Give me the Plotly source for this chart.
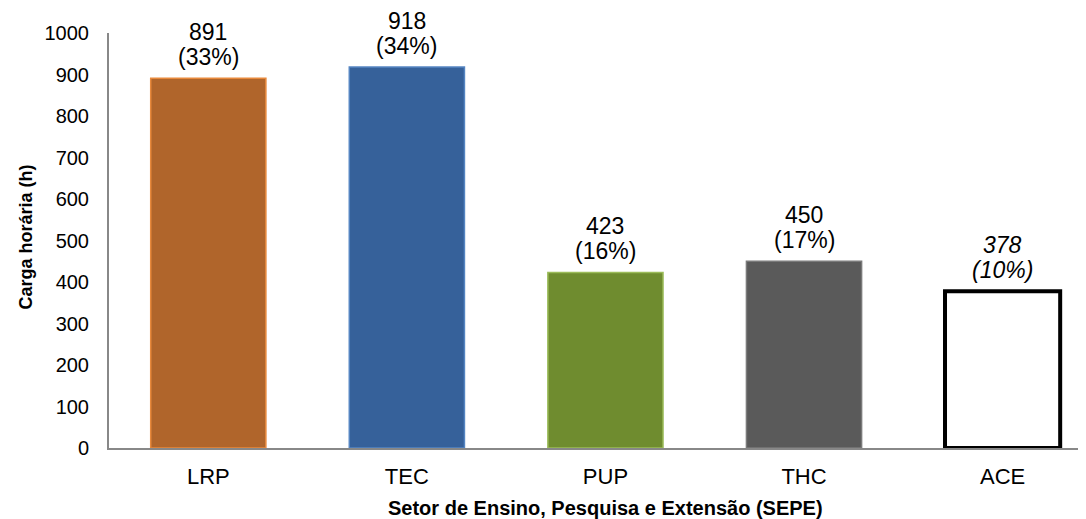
import plotly.graph_objects as go

categories = ["LRP", "TEC", "PUP", "THC", "ACE"]
values = [891, 918, 423, 450, 378]
percents = ["33%", "34%", "16%", "17%", "10%"]
italic_label = [False, False, False, False, True]
fill_colors = ["#B0652B", "#36619A", "#6F8C2F", "#5A5A5A", "#FFFFFF"]
edge_colors = ["#E8893C", "#5585C2", "#9CBC5A", "#7A7A7A", "#000000"]
edge_widths = [1.5, 1.5, 1.5, 1.5, 4]
x_title = "Setor de Ensino, Pesquisa e Extensão (SEPE)"
y_title = "Carga horária (h)"

FONT = "Liberation Sans, Arial, sans-serif"

fig = go.Figure(
    go.Bar(
        x=categories,
        y=values,
        width=0.58,
        marker=dict(color=fill_colors, line=dict(color=edge_colors, width=edge_widths)),
        hoverinfo="x+y",
    )
)

annotations = []
for cat, v, p, it in zip(categories, values, percents, italic_label):
    t_val = f"<i>{v}</i>" if it else f"{v}"
    t_pct = f"<i>({p})</i>" if it else f"({p})"
    for txt, shift in ((t_pct, 21), (t_val, 46)):
        annotations.append(dict(
            x=cat, y=v, xref="x", yref="y", text=txt, showarrow=False,
            yanchor="middle", xanchor="center", yshift=shift,
            font=dict(family=FONT, size=23, color="#000000"),
        ))

# axis titles
annotations.append(dict(
    x=0.5, y=0, xref="paper", yref="paper", text=f"<b>{x_title}</b>", showarrow=False,
    xanchor="center", yanchor="middle", xshift=8, yshift=-60,
    font=dict(family=FONT, size=20, color="#000000"),
))
annotations.append(dict(
    x=0, y=0.5, xref="paper", yref="paper", text=f"<b>{y_title}</b>", showarrow=False,
    xanchor="center", yanchor="middle", xshift=-84, yshift=3, textangle=-90,
    font=dict(family=FONT, size=18, color="#000000"),
))

# page body has an 8px margin, so the figure is drawn 8px smaller and offset
fig.update_layout(
    width=1078,
    height=511,
    margin=dict(l=101, r=0, t=25, b=71, autoexpand=False),
    paper_bgcolor="white",
    plot_bgcolor="white",
    showlegend=False,
    font=dict(family=FONT, color="#000000"),
    annotations=annotations,
)
fig.update_xaxes(
    range=[-0.5, 4.42],
    showline=True,
    linecolor="#888888",
    linewidth=2,
    ticks="",
    automargin=False,
    tickfont=dict(size=22),
    ticklabelstandoff=8,
)
fig.update_yaxes(
    range=[0, 1000],
    dtick=100,
    showline=True,
    linecolor="#888888",
    linewidth=2,
    showgrid=False,
    zeroline=False,
    ticks="",
    automargin=False,
    tickfont=dict(size=20),
    ticklabelstandoff=14,
)

fig.write_html("out.html")
